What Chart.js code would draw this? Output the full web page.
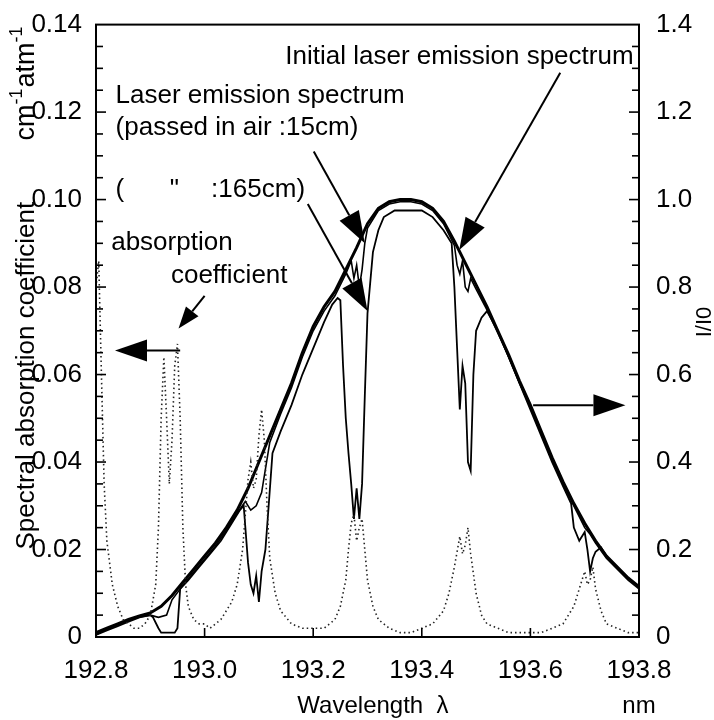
<!DOCTYPE html>
<html>
<head>
<meta charset="utf-8">
<script src="https://cdn.jsdelivr.net/npm/chart.js@4.4.1/dist/chart.umd.min.js"></script>
<style>
  html, body { margin: 0; padding: 0; background: #fff; }
  #wrap { width: 714px; height: 720px; }
</style>
</head>
<body>
<div id="wrap"><canvas id="spec_chart" width="714" height="720"></canvas></div>
<script>
'use strict'

// absorption coefficient of air (cm-1 atm-1), left axis
const absWl = [192.80, 192.805, 192.81, 192.815, 192.82, 192.83, 192.84, 192.85, 192.86, 192.87, 192.88, 192.89,
  192.90, 192.91, 192.915, 192.92, 192.925, 192.93, 192.935, 192.94, 192.945, 192.95, 192.955, 192.96, 192.965,
  192.97, 192.98, 192.99, 193.00, 193.01, 193.02, 193.03, 193.04, 193.05, 193.06, 193.07, 193.075, 193.08, 193.085,
  193.09, 193.095, 193.10, 193.105, 193.11, 193.115, 193.12, 193.13, 193.14, 193.16, 193.18, 193.20, 193.22, 193.24,
  193.25, 193.26, 193.265, 193.27, 193.275, 193.28, 193.285, 193.29, 193.295, 193.30, 193.31, 193.32, 193.34,
  193.36, 193.38, 193.40, 193.42, 193.44, 193.45, 193.46, 193.47, 193.475, 193.48, 193.485, 193.49, 193.50, 193.51,
  193.52, 193.54, 193.56, 193.58, 193.60, 193.62, 193.64, 193.66, 193.68, 193.69, 193.70, 193.705, 193.71, 193.715,
  193.72, 193.73, 193.74, 193.76, 193.78, 193.80]
const absVal = [0.080, 0.086, 0.060, 0.035, 0.022, 0.012, 0.007, 0.004, 0.003, 0.002, 0.002, 0.003,
  0.005, 0.012, 0.025, 0.050, 0.064, 0.050, 0.035, 0.045, 0.062, 0.067, 0.050, 0.025, 0.012,
  0.007, 0.004, 0.003, 0.003, 0.002, 0.003, 0.004, 0.006, 0.008, 0.012, 0.020, 0.028, 0.036, 0.040,
  0.034, 0.036, 0.046, 0.052, 0.045, 0.030, 0.018, 0.010, 0.006, 0.003, 0.002, 0.002, 0.002, 0.004,
  0.007, 0.013, 0.020, 0.026, 0.028, 0.022, 0.025, 0.027, 0.020, 0.013, 0.007, 0.004, 0.002,
  0.001, 0.001, 0.002, 0.003, 0.006, 0.010, 0.016, 0.023, 0.019, 0.021, 0.025, 0.019, 0.010, 0.005,
  0.003, 0.002, 0.001, 0.001, 0.001, 0.001, 0.002, 0.003, 0.007, 0.011, 0.015, 0.012, 0.013, 0.016,
  0.011, 0.006, 0.003, 0.002, 0.001, 0.001]

// initial laser emission spectrum, I/I0
const initWl = [192.80, 192.82, 192.84, 192.86, 192.88, 192.90, 192.92, 192.94, 192.96, 192.98, 193.00, 193.02,
  193.04, 193.06, 193.08, 193.10, 193.12, 193.14, 193.16, 193.18, 193.20, 193.22, 193.24, 193.26, 193.28, 193.30,
  193.32, 193.34, 193.36, 193.38, 193.40, 193.42, 193.44, 193.46, 193.48, 193.50, 193.52, 193.54, 193.56, 193.58,
  193.60, 193.62, 193.64, 193.66, 193.68, 193.70, 193.72, 193.74, 193.76, 193.78, 193.80]
const initVal = [0.010, 0.020, 0.030, 0.040, 0.048, 0.055, 0.070, 0.095, 0.125, 0.155, 0.185, 0.215,
  0.250, 0.290, 0.340, 0.400, 0.460, 0.520, 0.580, 0.650, 0.710, 0.755, 0.790, 0.840, 0.890, 0.945,
  0.980, 0.995, 1.000, 1.000, 0.995, 0.980, 0.950, 0.905, 0.855, 0.805, 0.755, 0.700, 0.645, 0.585,
  0.530, 0.470, 0.410, 0.355, 0.305, 0.260, 0.220, 0.185, 0.160, 0.135, 0.115]

// passed in air 15 cm
const air15Wl = [192.80, 192.82, 192.84, 192.86, 192.88, 192.90, 192.915, 192.93, 192.94, 192.96, 192.98, 193.00,
  193.02, 193.04, 193.06, 193.075, 193.085, 193.095, 193.105, 193.12, 193.14, 193.16, 193.18, 193.20, 193.22,
  193.24, 193.26, 193.27, 193.275, 193.28, 193.285, 193.29, 193.295, 193.30, 193.32, 193.34, 193.36, 193.38,
  193.40, 193.42, 193.44, 193.46, 193.465, 193.47, 193.475, 193.48, 193.485, 193.49, 193.50, 193.52, 193.54,
  193.56, 193.58, 193.60, 193.62, 193.64, 193.66, 193.68, 193.70, 193.71, 193.72, 193.74, 193.76, 193.78, 193.80]
const air15Val = [0.005, 0.018, 0.028, 0.038, 0.046, 0.050, 0.045, 0.050, 0.085, 0.118, 0.148, 0.178,
  0.208, 0.243, 0.283, 0.310, 0.290, 0.300, 0.330, 0.445, 0.510, 0.570, 0.640, 0.700, 0.745,
  0.780, 0.830, 0.860, 0.820, 0.850, 0.800, 0.840, 0.900, 0.935, 0.975, 0.990, 0.995, 0.995,
  0.990, 0.975, 0.945, 0.895, 0.850, 0.830, 0.860, 0.800, 0.790, 0.820, 0.795, 0.748, 0.695,
  0.640, 0.580, 0.525, 0.465, 0.405, 0.350, 0.300, 0.250, 0.235, 0.215, 0.180, 0.155, 0.130, 0.110]

// passed in air 165 cm
const air165Wl = [192.80, 192.82, 192.84, 192.86, 192.88, 192.90, 192.905, 192.915, 192.92, 192.945, 192.95,
  192.955, 192.97, 192.99, 193.01, 193.03, 193.05, 193.065, 193.072, 193.08, 193.085, 193.09, 193.095, 193.10,
  193.105, 193.112, 193.118, 193.125, 193.14, 193.16, 193.18, 193.20, 193.22, 193.235, 193.245, 193.25, 193.255,
  193.26, 193.265, 193.27, 193.275, 193.28, 193.285, 193.29, 193.295, 193.30, 193.31, 193.32, 193.33, 193.35,
  193.40, 193.42, 193.44, 193.455, 193.46, 193.465, 193.47, 193.475, 193.48, 193.485, 193.49, 193.495, 193.50,
  193.51, 193.52, 193.54, 193.56, 193.58, 193.60, 193.62, 193.64, 193.66, 193.675, 193.68, 193.69, 193.70,
  193.705, 193.71, 193.715, 193.72, 193.73, 193.74, 193.76, 193.78, 193.80]
const air165Val = [0.005, 0.015, 0.025, 0.035, 0.045, 0.050, 0.045, 0.020, 0.010, 0.010, 0.020,
  0.110, 0.130, 0.160, 0.190, 0.220, 0.260, 0.290, 0.300, 0.170, 0.120, 0.100, 0.140, 0.080,
  0.150, 0.200, 0.300, 0.420, 0.470, 0.530, 0.600, 0.660, 0.720, 0.760, 0.775, 0.770, 0.620,
  0.500, 0.420, 0.350, 0.270, 0.340, 0.270, 0.350, 0.550, 0.740, 0.880, 0.930, 0.960, 0.975,
  0.975, 0.960, 0.930, 0.900, 0.800, 0.660, 0.520, 0.620, 0.580, 0.400, 0.380, 0.600, 0.700,
  0.730, 0.745, 0.700, 0.640, 0.580, 0.520, 0.460, 0.400, 0.345, 0.305, 0.250, 0.220, 0.240,
  0.200, 0.150, 0.180, 0.195, 0.205, 0.185, 0.160, 0.135, 0.115]

const textFamily = '"Liberation Sans", Arial, Helvetica, sans-serif'
const tickFont = {family: textFamily, size: 26}

const pairs = (xs, ys) => xs.map((x, i) => ({x: x, y: ys[i]}))

const line = (ctx, x0, y0, x1, y1) => {
    ctx.beginPath()
    ctx.moveTo(x0, y0)
    ctx.lineTo(x1, y1)
    ctx.stroke()
}

// arrow with filled head, coordinates in pixels
const arrow = (ctx, x0, y0, x1, y1, headLen, headHalf) => {
    const ang = Math.atan2(y1 - y0, x1 - x0)
    const bx = x1 - headLen * Math.cos(ang)
    const by = y1 - headLen * Math.sin(ang)
    line(ctx, x0, y0, bx, by)
    ctx.beginPath()
    ctx.moveTo(x1, y1)
    ctx.lineTo(bx + headHalf * Math.sin(ang), by - headHalf * Math.cos(ang))
    ctx.lineTo(bx - headHalf * Math.sin(ang), by + headHalf * Math.cos(ang))
    ctx.closePath()
    ctx.fill()
}

const decor = {
    id: 'decor',
    afterDraw(chart) {
        const {ctx, chartArea: a} = chart
        const x = chart.scales.x, y = chart.scales.y, y1 = chart.scales.y1
        ctx.save()
        ctx.strokeStyle = '#000'
        ctx.fillStyle = '#000'

        // frame
        ctx.lineWidth = 2
        ctx.strokeRect(a.left, a.top, a.right - a.left, a.bottom - a.top)

        // inward ticks
        ctx.lineWidth = 1.6
        for (let i = 1; i < 28; i++) {
            const len = i % 4 === 0 ? 10 : 7
            const py = y.getPixelForValue(i * 0.005)
            line(ctx, a.left, py, a.left + len, py)
            const py1 = y1.getPixelForValue(i * 0.05)
            line(ctx, a.right, py1, a.right - len, py1)
        }
        for (let i = 1; i < 5; i++) {
            const px = x.getPixelForValue(192.8 + i * 0.2)
            line(ctx, px, a.bottom, px, a.bottom - 9)
        }

        // annotation texts
        ctx.font = '26px ' + textFamily
        ctx.textBaseline = 'alphabetic'
        const put = (s, wl, v, sc, align) => {
            ctx.textAlign = align || 'left'
            ctx.fillText(s, x.getPixelForValue(wl), sc.getPixelForValue(v))
        }
        put('Initial laser emission spectrum', 193.79, 1.31, y1, 'right')
        put('Laser emission spectrum', 192.836, 1.22, y1)
        put('(passed in air :15cm)', 192.836, 1.148, y1)
        put('(', 192.836, 1.005, y1)
        put('"', 192.936, 1.005, y1)
        put(':165cm)', 193.012, 1.005, y1)
        put('absorption', 192.828, 0.885, y1)
        put('coefficient', 192.938, 0.81, y1)

        // arrows
        ctx.lineWidth = 2
        const ap = (wl, v, sc) => [x.getPixelForValue(wl), sc.getPixelForValue(v)]
        let p, q
        p = ap(193.655, 1.29, y1); q = ap(193.469, 0.885, y1); arrow(ctx, p[0], p[1], q[0], q[1], 32, 11)
        p = ap(193.201, 1.11, y1); q = ap(193.295, 0.900, y1); arrow(ctx, p[0], p[1], q[0], q[1], 32, 11)
        p = ap(193.190, 0.99, y1); q = ap(193.300, 0.745, y1); arrow(ctx, p[0], p[1], q[0], q[1], 32, 11)
        p = ap(193.000, 0.0780, y); q = ap(192.952, 0.0705, y); arrow(ctx, p[0], p[1], q[0], q[1], 22, 8)
        p = ap(192.955, 0.0655, y); q = ap(192.835, 0.0655, y); arrow(ctx, p[0], p[1], q[0], q[1], 32, 11)
        p = ap(193.605, 0.53, y1); q = ap(193.775, 0.53, y1); arrow(ctx, p[0], p[1], q[0], q[1], 32, 11)

        // left axis title, rotated
        ctx.save()
        ctx.translate(34, y.getPixelForValue(0.0995))
        ctx.rotate(-Math.PI / 2)
        ctx.font = '26px ' + textFamily
        ctx.textAlign = 'right'
        ctx.fillText('Spectral absorption coefficient', 0, 0)
        ctx.restore()

        ctx.save()
        ctx.translate(34, y.getPixelForValue(0.1135))
        ctx.rotate(-Math.PI / 2)
        ctx.textAlign = 'left'
        let off = 0
        const parts = [['cm', false], ['-1', true], ['atm', false], ['-1', true]]
        parts.forEach(([s, sup]) => {
            ctx.font = (sup ? '18px ' : '27px ') + textFamily
            ctx.fillText(s, off, sup ? -12 : 0)
            off += ctx.measureText(s).width + (sup ? 1 : 0)
        })
        ctx.restore()

        // right axis title
        ctx.save()
        ctx.translate(711, y1.getPixelForValue(0.72))
        ctx.rotate(-Math.PI / 2)
        ctx.font = '22px ' + textFamily
        ctx.textAlign = 'center'
        ctx.fillText('I/I0', 0, 0)
        ctx.restore()

        // x axis title
        ctx.font = '24px ' + textFamily
        ctx.textAlign = 'center'
        ctx.fillText('Wavelength  \u03bb', x.getPixelForValue(193.31), 713)
        ctx.fillText('nm', x.getPixelForValue(193.8), 713)

        ctx.restore()
    }
}

window.onload = () => {
    const ctx = document.getElementById('spec_chart').getContext('2d')
    const chart = new Chart(ctx, {
        type: 'line',
        data: {
            datasets: [
                {
                    label: 'absorption coefficient',
                    data: pairs(absWl, absVal),
                    yAxisID: 'y',
                    borderColor: '#222',
                    borderWidth: 1.6,
                    borderDash: [1.5, 3],
                    pointRadius: 0,
                    tension: 0
                },
                {
                    label: 'passed in air 165cm',
                    data: pairs(air165Wl, air165Val),
                    yAxisID: 'y1',
                    borderColor: '#000',
                    borderWidth: 1.8,
                    pointRadius: 0,
                    tension: 0
                },
                {
                    label: 'passed in air 15cm',
                    data: pairs(air15Wl, air15Val),
                    yAxisID: 'y1',
                    borderColor: '#000',
                    borderWidth: 1.6,
                    pointRadius: 0,
                    tension: 0
                },
                {
                    label: 'Initial laser emission spectrum',
                    data: pairs(initWl, initVal),
                    yAxisID: 'y1',
                    borderColor: '#000',
                    borderWidth: 3,
                    pointRadius: 0,
                    tension: 0
                }
            ]
        },
        options: {
            responsive: false,
            animation: false,
            devicePixelRatio: 1,
            layout: {padding: {top: 22, left: 0, right: 0, bottom: 0}},
            plugins: {legend: {display: false}, tooltip: {enabled: false}},
            scales: {
                x: {
                    type: 'linear',
                    min: 192.8,
                    max: 193.8,
                    grid: {display: false},
                    border: {display: false},
                    ticks: {stepSize: 0.2, color: '#000', font: tickFont, padding: 10,
                        maxRotation: 0, callback: (v) => v.toFixed(1)},
                    afterFit: (s) => { s.height = 83 }
                },
                y: {
                    position: 'left',
                    min: 0,
                    max: 0.14,
                    grid: {display: false},
                    border: {display: false},
                    ticks: {stepSize: 0.02, color: '#000', font: tickFont, padding: 6,
                        callback: (v) => v === 0 ? '0' : v.toFixed(2)},
                    afterFit: (s) => { s.width = 96 }
                },
                y1: {
                    position: 'right',
                    min: 0,
                    max: 1.4,
                    grid: {display: false},
                    border: {display: false},
                    ticks: {stepSize: 0.2, color: '#000', font: tickFont, padding: 9,
                        callback: (v) => v === 0 ? '0' : v.toFixed(1)},
                    afterFit: (s) => { s.width = 75 }
                }
            }
        },
        plugins: [decor]
    })
}
</script>
</body>
</html>
